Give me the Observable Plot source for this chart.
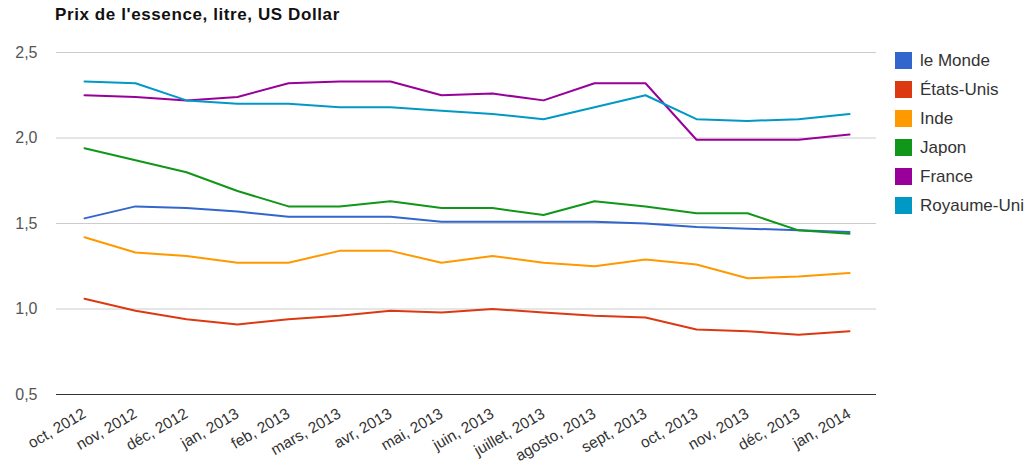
<!DOCTYPE html>
<html>
<head>
<meta charset="utf-8">
<script src="https://cdn.jsdelivr.net/npm/d3@7"></script>
<script src="https://cdn.jsdelivr.net/npm/@observablehq/plot@0.6"></script>
<style>
  body { margin: 0; background: #fff; font-family: "Liberation Sans", Arial, sans-serif; }
  #wrap { position: relative; width: 1034px; height: 472px; overflow: hidden; }
  #title { position: absolute; left: 55px; top: 5px; font-weight: bold; font-size: 17px; letter-spacing: 0.6px; line-height: 20px; color: #111; }
  #chart { position: absolute; left: 0; top: 0; }
  #legend { position: absolute; left: 895px; top: 0; }
  .item { position: absolute; left: 0; height: 17px; white-space: nowrap; font-size: 17px; line-height: 17px; color: #333; }
  .sw { position: absolute; left: 0; top: 0; width: 17px; height: 17px; }
  .lab { position: absolute; left: 25px; top: 0; }
</style>
</head>
<body>
<div id="wrap">
  <div id="title">Prix de l'essence, litre, US Dollar</div>
  <div id="chart"></div>
  <div id="legend"></div>
</div>
<script>
const months = ["oct, 2012","nov, 2012","déc, 2012","jan, 2013","feb, 2013","mars, 2013","avr, 2013","mai, 2013","juin, 2013","juillet, 2013","agosto, 2013","sept, 2013","oct, 2013","nov, 2013","déc, 2013","jan, 2014"];
const seriesNames = ["le Monde","États-Unis","Inde","Japon","France","Royaume-Uni"];
const seriesColors = ["#3366cc","#dc3912","#ff9900","#109618","#990099","#0099c6"];
const leMonde    = [1.53,1.60,1.59,1.57,1.54,1.54,1.54,1.51,1.51,1.51,1.51,1.50,1.48,1.47,1.46,1.45];
const etatsUnis  = [1.06,0.99,0.94,0.91,0.94,0.96,0.99,0.98,1.00,0.98,0.96,0.95,0.88,0.87,0.85,0.87];
const inde       = [1.42,1.33,1.31,1.27,1.27,1.34,1.34,1.27,1.31,1.27,1.25,1.29,1.26,1.18,1.19,1.21];
const japon      = [1.94,1.87,1.80,1.69,1.60,1.60,1.63,1.59,1.59,1.55,1.63,1.60,1.56,1.56,1.46,1.44];
const france     = [2.25,2.24,2.22,2.24,2.32,2.33,2.33,2.25,2.26,2.22,2.32,2.32,1.99,1.99,1.99,2.02];
const royaumeUni = [2.33,2.32,2.22,2.20,2.20,2.18,2.18,2.16,2.14,2.11,2.18,2.25,2.11,2.10,2.11,2.14];
const yTicks = [0.5,1.0,1.5,2.0,2.5];

const seriesValues = [leMonde, etatsUnis, inde, japon, france, royaumeUni];
const data = [];
seriesNames.forEach((name, i) => {
  months.forEach((m, j) => data.push({series: name, month: m, value: seriesValues[i][j]}));
});

const fmt = d => d3.format(".1f")(d).replace(".", ",");

const chart = Plot.plot({
  width: 885,
  height: 472,
  marginTop: 52,
  marginBottom: 78,
  marginLeft: 56,
  marginRight: 9,
  style: {fontFamily: "'Liberation Sans', Arial, sans-serif", fontSize: "16px", color: "#444", background: "transparent"},
  x: {type: "point", domain: months, padding: 0.5, label: null},
  y: {domain: [0.5, 2.5], label: null},
  color: {domain: seriesNames, range: seriesColors},
  marks: [
    Plot.ruleY(yTicks.filter(t => t > 0.5), {stroke: "#cccccc", strokeWidth: 1}),
    Plot.axisY({ticks: yTicks, tickSize: 0, tickPadding: 19, tickFormat: fmt, label: null, fill: "#555", fontSize: 16}),
    Plot.axisX({tickSize: 0, tickRotate: -30, tickPadding: 18, label: null, fill: "#333", fontSize: 15.5}),
    Plot.line(data, {x: "month", y: "value", z: "series", stroke: "series", strokeWidth: 2, curve: "linear"}),
    Plot.ruleY([0.5], {stroke: "#333333", strokeWidth: 1})
  ]
});
document.getElementById("chart").appendChild(chart);

const legend = document.getElementById("legend");
seriesNames.forEach((name, i) => {
  const it = document.createElement("div");
  it.className = "item";
  it.style.top = (52 + i * 29) + "px";
  const sw = document.createElement("div");
  sw.className = "sw";
  sw.style.background = seriesColors[i];
  const lab = document.createElement("div");
  lab.className = "lab";
  lab.textContent = name;
  it.appendChild(sw);
  it.appendChild(lab);
  legend.appendChild(it);
});
</script>
</body>
</html>
